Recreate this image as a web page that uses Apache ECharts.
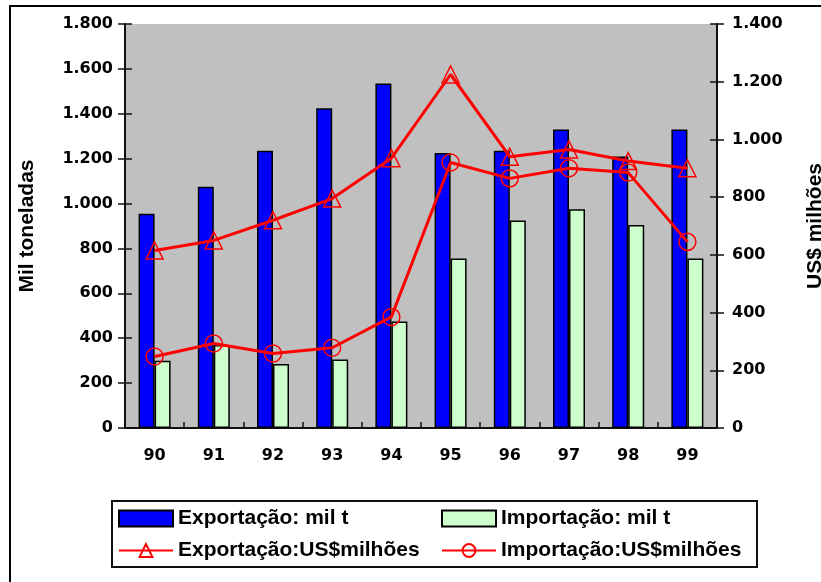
<!DOCTYPE html>
<html>
<head>
<meta charset="utf-8">
<script src="https://cdn.jsdelivr.net/npm/echarts@6/dist/echarts.min.js"></script>
<style>
  html, body { margin: 0; padding: 0; background: #fff; }
  #chart { width: 821px; height: 582px; }
</style>
</head>
<body>
<div id="chart"></div>
<script>
// anos (eixo x)
const years = ['90', '91', '92', '93', '94', '95', '96', '97', '98', '99']
// barras: mil toneladas (eixo esquerdo)
const exportMilT = [955, 1075, 1235, 1425, 1535, 1225, 1235, 1330, 1210, 1330]
const importMilT = [300, 370, 285, 305, 475, 755, 925, 975, 905, 755]
// linhas: US$ milhões (eixo direito)
const exportUsd = [615, 650, 720, 795, 935, 1225, 940, 965, 925, 900]
const importUsd = [248, 293, 258, 278, 385, 920, 865, 900, 885, 645]

const names = ['Exportação: mil t', 'Importação: mil t', 'Exportação:US$milhões', 'Importação:US$milhões']

const axisFont = { fontFamily: 'DejaVu Sans', fontWeight: 'bold', fontSize: 16, color: '#000' }
const legendFont = { fontFamily: 'Liberation Sans', fontWeight: 'bold', fontSize: 21, color: '#000' }
const axisLine = { show: true, lineStyle: { color: '#111', width: 2 } }
const hiddenLine = { show: true, lineStyle: { color: 'rgba(0,0,0,0)', width: 0 } }
const tickStyle = { color: '#111', width: 1.5 }

const dots = v => String(v).replace(/\B(?=(\d{3})+(?!\d))/g, '.')

function legendAt(name, left, top, icon) {
  return {
    data: [{ name, icon }], left, top, padding: 0,
    itemWidth: 54, itemHeight: 16, itemGap: 0,
    textStyle: legendFont,
    selectedMode: false,
  }
}

// inner half of the crossing ticks: invisible copies of the axes
function tickOnly(data, xi, yi) {
  return {
    type: 'line', data, xAxisIndex: xi, yAxisIndex: yi,
    symbol: 'none', silent: true, lineStyle: { opacity: 0 }, z: 0,
  }
}

const chart = echarts.init(document.getElementById('chart'))
chart.setOption({
  animation: false,
  textStyle: { fontFamily: 'Liberation Sans' },
  graphic: [
    { type: 'rect', shape: { x: 10, y: 6, width: 830, height: 600 }, style: { fill: 'none', stroke: '#000', lineWidth: 2 }, silent: true },
    { type: 'rect', shape: { x: 112, y: 501, width: 645, height: 66 }, style: { fill: 'none', stroke: '#111', lineWidth: 2 }, silent: true },
  ],
  grid: {
    left: 125, right: 104, top: 24, bottom: 154,
    outerBoundsMode: 'none', containLabel: false,
    show: true, backgroundColor: '#c0c0c0', borderWidth: 0,
  },
  legend: [
    legendAt(names[0], 118, 508, 'rect'),
    legendAt(names[1], 441, 508, 'rect'),
    legendAt(names[2], 118, 540),
    legendAt(names[3], 441, 540),
  ],
  xAxis: [
    {
      type: 'category', data: years,
      axisLine,
      axisTick: { length: 6, lineStyle: tickStyle },
      axisLabel: { ...axisFont, margin: 20 },
    },
    {
      type: 'category', data: years, position: 'bottom', z: 10,
      axisLine: hiddenLine,
      axisTick: { show: true, inside: true, length: 6, lineStyle: tickStyle },
      axisLabel: { show: false },
    },
  ],
  yAxis: [
    {
      type: 'value', min: 0, max: 1800, interval: 200, position: 'left',
      name: 'Mil toneladas', nameLocation: 'middle', nameGap: 87,
      nameTextStyle: legendFont,
      axisLine,
      axisTick: { show: true, length: 7, lineStyle: tickStyle },
      axisLabel: { ...axisFont, margin: 12, formatter: dots },
      splitLine: { show: false },
    },
    {
      type: 'value', min: 0, max: 1400, interval: 200, position: 'right',
      name: 'US$ milhões', nameLocation: 'middle', nameGap: 88,
      nameTextStyle: legendFont,
      axisLine,
      axisTick: { show: true, length: 7, lineStyle: tickStyle },
      axisLabel: { ...axisFont, margin: 15, formatter: dots },
      splitLine: { show: false },
    },
    {
      type: 'value', min: 0, max: 1800, interval: 200, position: 'left', z: 10,
      axisLine: hiddenLine,
      axisTick: { show: true, inside: true, length: 7, lineStyle: tickStyle },
      axisLabel: { show: false }, splitLine: { show: false },
    },
    {
      type: 'value', min: 0, max: 1400, interval: 200, position: 'right', z: 10,
      axisLine: hiddenLine,
      axisTick: { show: true, inside: true, length: 7, lineStyle: tickStyle },
      axisLabel: { show: false }, splitLine: { show: false },
    },
  ],
  series: [
    {
      name: names[0], type: 'bar', data: exportMilT, yAxisIndex: 0,
      barWidth: 16, barGap: '0%',
      itemStyle: { color: '#0000ff', borderColor: '#000', borderWidth: 1.5 },
    },
    {
      name: names[1], type: 'bar', data: importMilT, yAxisIndex: 0,
      barWidth: 16, barGap: '0%',
      itemStyle: { color: '#ccffcc', borderColor: '#000', borderWidth: 1.5 },
    },
    {
      name: names[2], type: 'line', data: exportUsd, yAxisIndex: 1, z: 5,
      symbol: 'triangle', symbolSize: 17,
      lineStyle: { color: '#ff0000', width: 3 },
      itemStyle: { color: 'rgba(0,0,0,0)', borderColor: '#ff0000', borderWidth: 1.5 },
    },
    {
      name: names[3], type: 'line', data: importUsd, yAxisIndex: 1, z: 5,
      symbol: 'circle', symbolSize: 17,
      lineStyle: { color: '#ff0000', width: 3 },
      itemStyle: { color: 'rgba(0,0,0,0)', borderColor: '#ff0000', borderWidth: 1.5 },
    },
    tickOnly(exportMilT, 1, 2),
    tickOnly(exportUsd, 1, 3),
  ],
})
</script>
</body>
</html>
